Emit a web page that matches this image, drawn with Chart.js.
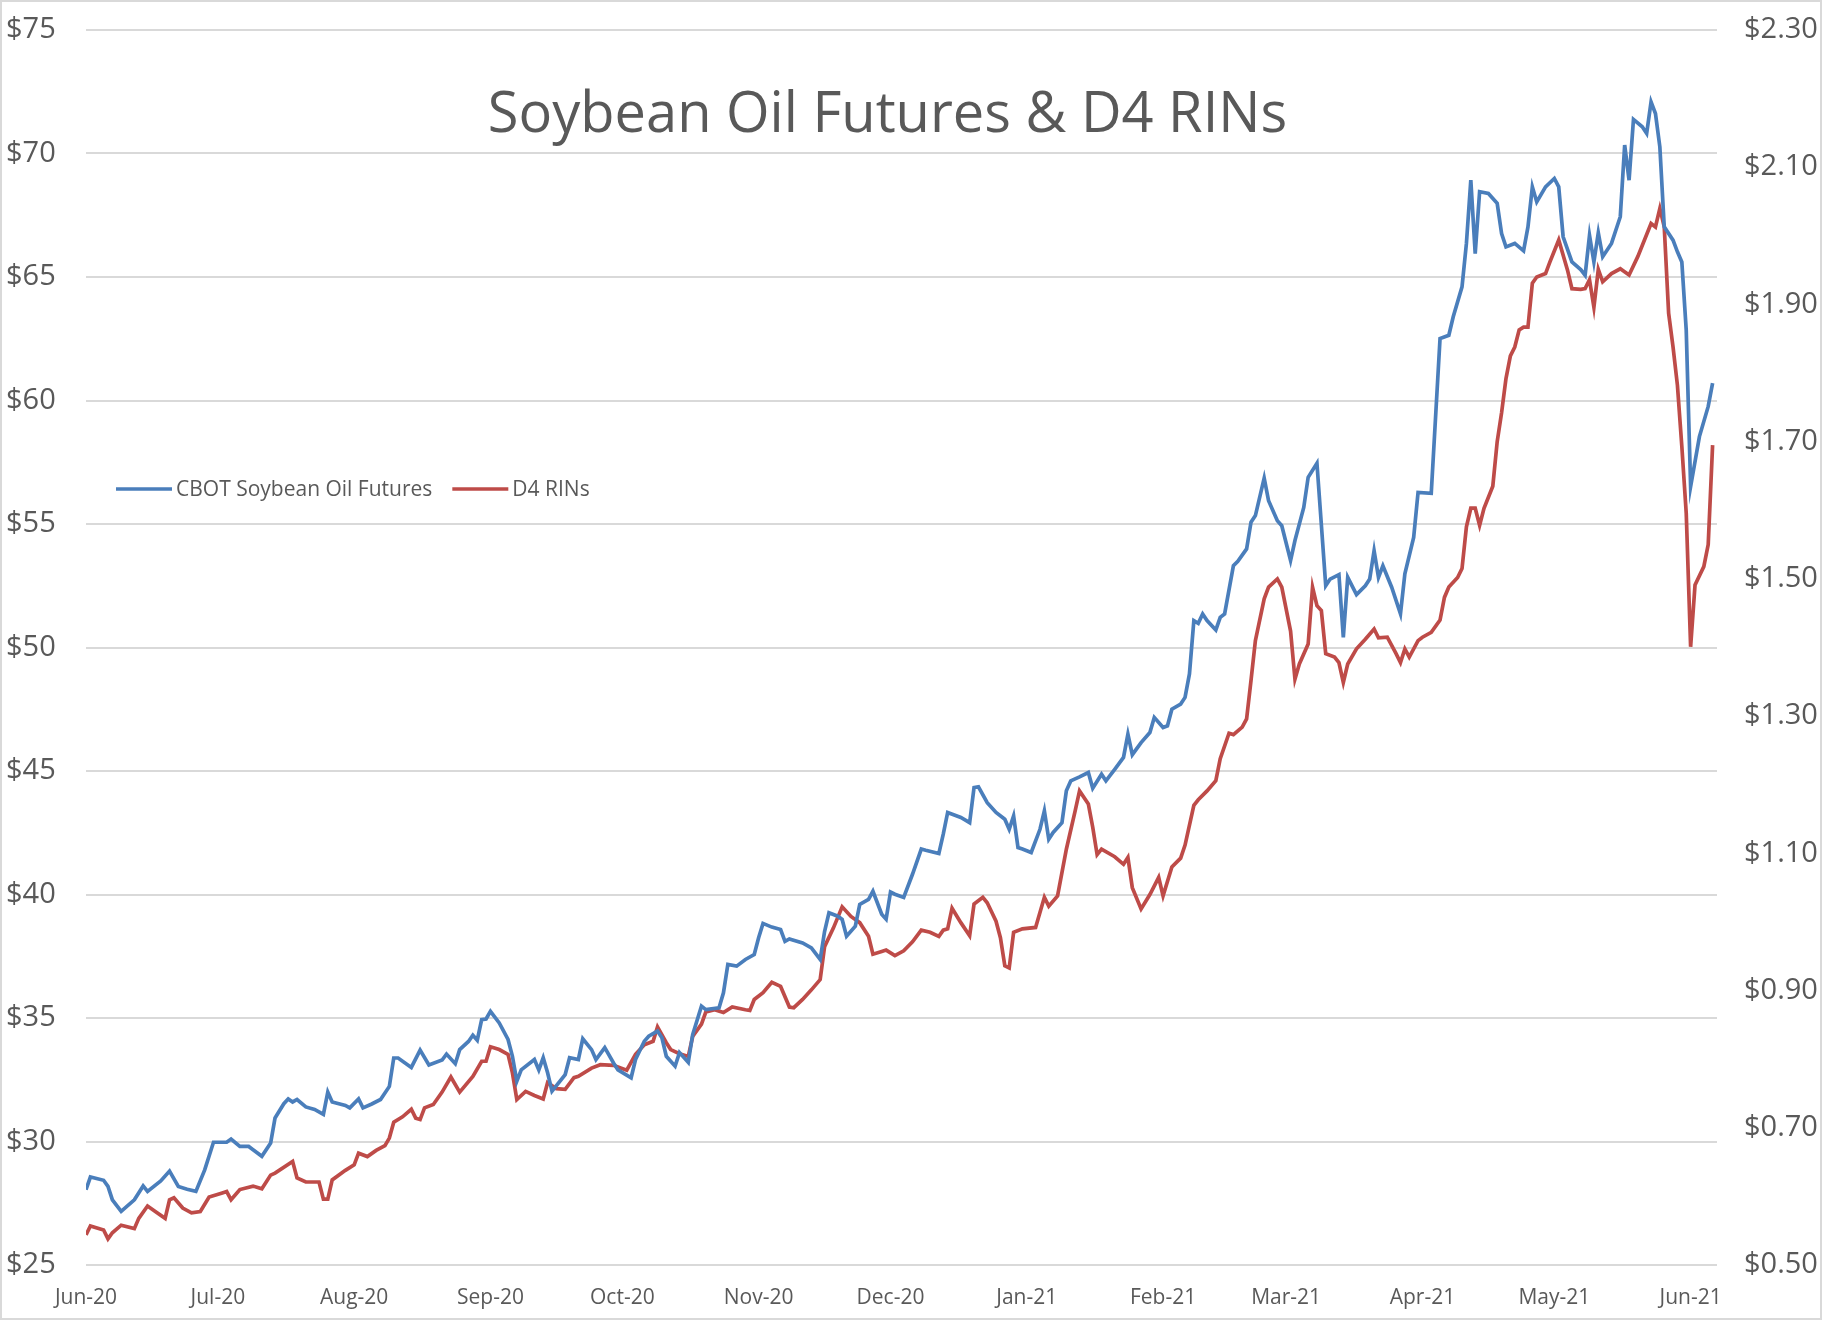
<!DOCTYPE html>
<html>
<head>
<meta charset="utf-8">
<title>Soybean Oil Futures &amp; D4 RINs</title>
<script src="https://cdn.jsdelivr.net/npm/chart.js@4.4.0/dist/chart.umd.min.js"></script>
<style>
  html, body { margin: 0; padding: 0; background: #fff; }
  #wrap { position: relative; width: 1822px; height: 1320px; box-sizing: border-box; border: 2px solid #d9d9d9; background: #fff; }
</style>
</head>
<body>
<div id="wrap"><canvas id="chart"></canvas></div>
<script>
// x values are days since 1 Jun 2020
const chartTitle = 'Soybean Oil Futures & D4 RINs';
const monthDays = [0, 30, 61, 92, 122, 153, 183, 214, 245, 273, 304, 334, 365];
const monthLabels = ['Jun-20', 'Jul-20', 'Aug-20', 'Sep-20', 'Oct-20', 'Nov-20', 'Dec-20',
  'Jan-21', 'Feb-21', 'Mar-21', 'Apr-21', 'May-21', 'Jun-21'];
const soyTicks = [25, 30, 35, 40, 45, 50, 55, 60, 65, 70, 75];
const rinTicks = [0.5, 0.7, 0.9, 1.1, 1.3, 1.5, 1.7, 1.9, 2.1, 2.3];

// CBOT soybean oil futures, $ (left axis)
const soyDays = [
  0, 1, 4, 5, 6, 8, 11, 13, 14, 17,
  19, 21, 23, 25, 27, 29, 32, 33, 35, 37,
  38, 40, 42, 43, 45, 46, 47, 48, 50, 52,
  54, 55, 56, 59, 60, 62, 63, 65, 67, 69,
  70, 71, 74, 76, 78, 81, 82, 84, 85, 87,
  88, 89, 90, 91, 92, 94, 96, 97, 98, 99,
  102, 103, 104, 105, 106, 109, 110, 112, 113, 115,
  116, 118, 120, 121, 124, 125, 127, 128, 130, 131,
  132, 134, 135, 137, 138, 140, 141, 144, 145, 146,
  148, 150, 152, 153, 154, 156, 158, 159, 160, 163,
  165, 167, 168, 169, 171, 172, 173, 175, 176, 178,
  179, 181, 182, 183, 184, 186, 188, 190, 191, 194,
  195, 196, 199, 201, 202, 203, 205, 207, 209, 210,
  211, 212, 213, 215, 217, 218, 219, 220, 222, 223,
  224, 226, 228, 229, 231, 232, 234, 236, 237, 238,
  240, 242, 243, 245, 246, 247, 249, 250, 251, 252,
  253, 254, 255, 257, 258, 259, 261, 262, 264, 265,
  266, 268, 269, 271, 272, 274, 275, 277, 278, 280,
  282, 283, 285, 286, 287, 289, 291, 292, 293, 294,
  295, 297, 299, 300, 302, 303, 306, 308, 310, 311,
  313, 314, 315, 316, 317, 319, 321, 322, 323, 325,
  327, 328, 329, 330, 332, 334, 335, 336, 338, 340,
  341, 342, 343, 344, 345, 347, 349, 350, 351, 352,
  354, 355, 356, 357, 358, 359, 361, 362, 363, 364,
  365, 367, 369, 370
];
const soyPrice = [
  28.05, 28.56, 28.43, 28.18, 27.64, 27.17, 27.64, 28.20, 27.98, 28.40,
  28.80, 28.18, 28.07, 27.98, 28.85, 29.97, 29.97, 30.10, 29.80, 29.80,
  29.67, 29.40, 29.94, 30.95, 31.53, 31.72, 31.60, 31.70, 31.40, 31.30,
  31.10, 32.00, 31.60, 31.46, 31.36, 31.72, 31.36, 31.52, 31.70, 32.23,
  33.38, 33.38, 33.00, 33.70, 33.10, 33.30, 33.54, 33.15, 33.72, 34.05,
  34.30, 34.10, 34.93, 34.96, 35.27, 34.80, 34.13, 33.45, 32.44, 32.90,
  33.32, 32.90, 33.39, 32.78, 32.04, 32.71, 33.39, 33.32, 34.16, 33.72,
  33.32, 33.80, 33.18, 32.90, 32.58, 33.32, 34.06, 34.26, 34.47, 34.20,
  33.45, 33.05, 33.60, 33.20, 34.33, 35.48, 35.34, 35.41, 36.02, 37.17,
  37.10, 37.37, 37.57, 38.25, 38.83, 38.68, 38.58, 38.10, 38.20, 38.04,
  37.84, 37.37, 38.50, 39.26, 39.12, 38.99, 38.31, 38.72, 39.60, 39.80,
  40.13, 39.20, 39.00, 40.10, 40.01, 39.88, 40.82, 41.84, 41.79, 41.66,
  42.44, 43.32, 43.12, 42.91, 44.33, 44.36, 43.72, 43.32, 43.05, 42.64,
  43.18, 41.90, 41.84, 41.70, 42.64, 43.39, 42.24, 42.51, 42.91, 44.20,
  44.60, 44.76, 44.94, 44.30, 44.87, 44.60, 45.07, 45.55, 46.49, 45.66,
  46.15, 46.56, 47.17, 46.76, 46.83, 47.50, 47.71, 47.98, 48.93, 51.09,
  50.98, 51.36, 51.09, 50.71, 51.22, 51.36, 53.31, 53.49, 53.99, 55.07,
  55.34, 56.86, 55.94, 55.13, 54.93, 53.52, 54.33, 55.67, 56.89, 57.46,
  52.50, 52.77, 52.95, 50.41, 52.84, 52.14, 52.50, 52.77, 53.92, 52.84,
  53.31, 52.44, 51.36, 52.98, 54.46, 56.28, 56.24, 62.51, 62.64, 63.39,
  64.60, 66.36, 68.92, 65.95, 68.45, 68.38, 67.98, 66.76, 66.22, 66.36,
  66.06, 67.03, 68.65, 68.04, 68.65, 68.99, 68.65, 66.63, 65.61, 65.30,
  65.07, 66.69, 65.61, 66.79, 65.82, 66.36, 67.44, 70.34, 68.92, 71.38,
  71.08, 70.81, 72.09, 71.62, 70.27, 67.03, 66.49, 66.02, 65.61, 62.85,
  56.52, 58.54, 59.76, 60.70
];

// D4 RIN price, $ (right axis)
const rinDays = [
  0, 1, 4, 5, 6, 8, 11, 12, 14, 16,
  18, 19, 20, 22, 24, 26, 28, 31, 32, 33,
  35, 38, 40, 42, 43, 47, 48, 50, 53, 54,
  55, 56, 59, 61, 62, 64, 66, 68, 69, 70,
  72, 74, 75, 76, 77, 79, 81, 83, 85, 88,
  90, 91, 92, 94, 96, 97, 98, 100, 102, 104,
  105, 107, 109, 111, 112, 115, 117, 120, 123, 125,
  127, 129, 130, 132, 133, 135, 137, 138, 140, 141,
  143, 145, 147, 150, 151, 152, 154, 156, 158, 160,
  161, 163, 165, 167, 168, 170, 172, 174, 176, 178,
  179, 181, 182, 184, 186, 188, 190, 192, 194, 195,
  196, 197, 199, 201, 202, 204, 205, 207, 208, 209,
  210, 211, 213, 216, 218, 219, 221, 223, 225, 226,
  228, 229, 230, 231, 234, 236, 237, 238, 240, 242,
  244, 245, 247, 249, 250, 252, 253, 255, 257, 258,
  260, 261, 263, 264, 265, 266, 268, 269, 271, 272,
  274, 275, 276, 278, 279, 280, 281, 282, 284, 285,
  286, 287, 289, 291, 293, 294, 296, 298, 299, 300,
  301, 303, 304, 306, 308, 309, 310, 312, 313, 314,
  315, 316, 317, 318, 320, 321, 322, 323, 324, 325,
  326, 327, 328, 329, 330, 332, 333, 335, 337, 338,
  340, 341, 342, 343, 344, 345, 347, 349, 351, 353,
  356, 357, 358, 359, 360, 361, 362, 363, 364, 365,
  366, 368, 369, 370
];
const rinPrice = [
  0.544, 0.557, 0.551, 0.538, 0.547, 0.558, 0.553, 0.568, 0.586, 0.577,
  0.568, 0.595, 0.598, 0.583, 0.576, 0.578, 0.599, 0.605, 0.607, 0.595,
  0.610, 0.615, 0.611, 0.631, 0.634, 0.651, 0.627, 0.621, 0.621, 0.596,
  0.596, 0.624, 0.638, 0.646, 0.663, 0.658, 0.667, 0.674, 0.685, 0.708,
  0.716, 0.727, 0.714, 0.712, 0.729, 0.734, 0.752, 0.774, 0.752, 0.775,
  0.797, 0.797, 0.818, 0.814, 0.807, 0.780, 0.741, 0.753, 0.747, 0.742,
  0.766, 0.757, 0.756, 0.773, 0.775, 0.787, 0.792, 0.791, 0.784, 0.807,
  0.821, 0.826, 0.847, 0.824, 0.814, 0.808, 0.804, 0.833, 0.851, 0.869,
  0.872, 0.868, 0.876, 0.872, 0.871, 0.887, 0.897, 0.912, 0.906, 0.876,
  0.875, 0.887, 0.901, 0.916, 0.964, 0.991, 1.022, 1.008, 0.999, 0.979,
  0.953, 0.957, 0.959, 0.951, 0.958, 0.971, 0.988, 0.985, 0.979, 0.988,
  0.990, 1.020, 0.999, 0.980, 1.026, 1.036, 1.028, 1.001, 0.977, 0.936,
  0.933, 0.985, 0.990, 0.992, 1.036, 1.023, 1.038, 1.106, 1.162, 1.191,
  1.172, 1.138, 1.098, 1.106, 1.095, 1.084, 1.094, 1.050, 1.019, 1.040,
  1.065, 1.038, 1.080, 1.093, 1.112, 1.170, 1.178, 1.191, 1.206, 1.238,
  1.275, 1.273, 1.284, 1.296, 1.352, 1.410, 1.471, 1.488, 1.500, 1.488,
  1.424, 1.354, 1.376, 1.405, 1.488, 1.461, 1.454, 1.391, 1.386, 1.378,
  1.349, 1.376, 1.398, 1.412, 1.427, 1.414, 1.415, 1.391, 1.378, 1.398,
  1.386, 1.410, 1.415, 1.422, 1.440, 1.473, 1.488, 1.502, 1.515, 1.576,
  1.603, 1.603, 1.578, 1.603, 1.635, 1.700, 1.742, 1.792, 1.825, 1.838,
  1.863, 1.867, 1.867, 1.931, 1.940, 1.945, 1.962, 1.994, 1.950, 1.923,
  1.922, 1.923, 1.936, 1.896, 1.951, 1.933, 1.945, 1.952, 1.943, 1.970,
  2.018, 2.013, 2.040, 2.013, 1.887, 1.838, 1.782, 1.693, 1.596, 1.401,
  1.491, 1.518, 1.550, 1.695
];

const textGrey = '#595959';
Chart.defaults.font.family = '"Open Sans", sans-serif';
Chart.defaults.color = textGrey;

// title and legend sit inside the plot area in the original, so draw them by hand
const overlay = {
  id: 'overlay',
  afterDraw(chart) {
    const { ctx, chartArea } = chart;
    ctx.save();
    ctx.fillStyle = textGrey;
    ctx.font = '56px "Open Sans"';
    ctx.textAlign = 'center';
    ctx.textBaseline = 'middle';
    ctx.fillText(chartTitle, (chartArea.left + chartArea.right) / 2 - 14, chartArea.top + 86);

    ctx.font = '21px "Open Sans"';
    ctx.textAlign = 'left';
    let x = chartArea.left + 30;
    const y = chartArea.top + 459;
    chart.data.datasets.forEach(ds => {
      ctx.strokeStyle = ds.borderColor;
      ctx.lineWidth = 3.5;
      ctx.beginPath();
      ctx.moveTo(x, y);
      ctx.lineTo(x + 56, y);
      ctx.stroke();
      ctx.fillText(ds.label, x + 60, y + 1);
      x += 60 + ctx.measureText(ds.label).width + 20;
    });
    ctx.restore();
  }
};

// fixed axis boxes so the plot area lands where the original has it
function fixY(width) {
  return scale => {
    scale.width = width;
    scale.paddingTop = 0;
    scale.paddingBottom = 0;
  };
}

new Chart(document.getElementById('chart'), {
  type: 'line',
  data: {
    datasets: [{
      label: 'CBOT Soybean Oil Futures',
      data: soyDays.map((d, i) => ({ x: d, y: soyPrice[i] })),
      borderColor: '#4a7ebb',
      borderWidth: 3.7,
      pointRadius: 0,
      yAxisID: 'y'
    }, {
      label: 'D4 RINs',
      data: rinDays.map((d, i) => ({ x: d, y: rinPrice[i] })),
      borderColor: '#be4b48',
      borderWidth: 3.7,
      pointRadius: 0,
      yAxisID: 'y1'
    }]
  },
  options: {
    responsive: true,
    maintainAspectRatio: false,
    animation: false,
    layout: { padding: { left: 4, top: 28, right: 0, bottom: 0 } },
    plugins: {
      legend: { display: false },
      title: { display: false },
      tooltip: { enabled: false }
    },
    scales: {
      x: {
        type: 'linear',
        min: 0,
        max: 371,
        grid: { display: false },
        border: { display: false },
        afterBuildTicks: scale => { scale.ticks = monthDays.map(v => ({ value: v })); },
        afterFit: scale => {
          scale.height = 53;
          scale.paddingLeft = 0;
          scale.paddingRight = 0;
        },
        ticks: {
          autoSkip: false,
          maxRotation: 0,
          padding: 12,
          font: { size: 21 },
          callback: (v, i) => monthLabels[i]
        }
      },
      y: {
        position: 'left',
        min: 25,
        max: 75,
        grid: { color: '#d9d9d9', lineWidth: 2, drawTicks: false },
        border: { display: false },
        afterBuildTicks: scale => { scale.ticks = soyTicks.map(v => ({ value: v })); },
        afterFit: fixY(80),
        ticks: {
          crossAlign: 'far',
          font: { size: 29 },
          callback: v => '$' + v
        }
      },
      y1: {
        position: 'right',
        min: 0.5,
        max: 2.3,
        grid: { display: false, drawTicks: false },
        border: { display: false },
        afterBuildTicks: scale => { scale.ticks = rinTicks.map(v => ({ value: v })); },
        afterFit: fixY(103),
        ticks: {
          padding: 27,
          font: { size: 29 },
          callback: v => '$' + v.toFixed(2)
        }
      }
    }
  },
  plugins: [overlay]
});
</script>
</body>
</html>
